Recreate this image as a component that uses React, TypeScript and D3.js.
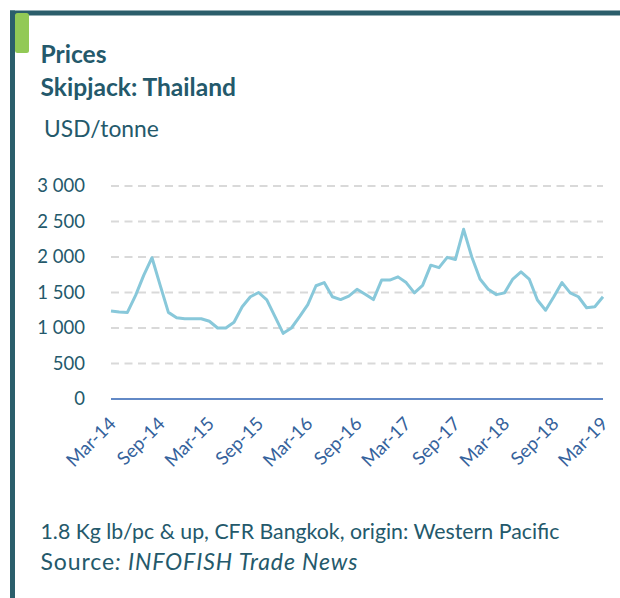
import React from "react";
import * as d3 from "d3";

const months: string[] = (() => {
  const names = ["Jan","Feb","Mar","Apr","May","Jun","Jul","Aug","Sep","Oct","Nov","Dec"];
  const out: string[] = [];
  for (let i = 0; i <= 60; i++) {
    const m = (2 + i) % 12;
    const y = 14 + Math.floor((2 + i) / 12);
    out.push(`${names[m]}-${y}`);
  }
  return out;
})();

const prices: number[] = [
  1240, 1225, 1220, 1460, 1745, 1990, 1600, 1220, 1145, 1130, 1130, 1130,
  1095, 1000, 1000, 1080, 1300, 1440, 1500, 1395, 1160, 925, 1000, 1160,
  1330, 1595, 1640, 1440, 1400, 1450, 1545, 1475, 1400, 1675, 1675, 1720,
  1640, 1495, 1600, 1885, 1850, 1995, 1965, 2390, 2000, 1690, 1545, 1470,
  1495, 1690, 1790, 1690, 1395, 1250, 1440, 1640, 1495, 1440, 1285, 1300,
  1440,
];

const yTicks: number[] = [0, 500, 1000, 1500, 2000, 2500, 3000];
const xTickLabels: string[] = ["Mar-14","Sep-14","Mar-15","Sep-15","Mar-16","Sep-16","Mar-17","Sep-17","Mar-18","Sep-18","Mar-19"];

const W = 620, H = 598;
const FONT = "Lato, 'Noto Sans', sans-serif";
const TEAL = "#24596b";

export default function App() {
  const x = d3.scalePoint<string>().domain(months).range([111, 603]);
  const y = d3.scaleLinear().domain([0, 3000]).range([399, 186]);
  const line = d3.line<number>().x((_, i) => x(months[i]) as number).y((d) => y(d));
  const fmt = (v: number) => d3.format(",")(v).replace(/,/g, " ");

  return (
    <div style={{ position: "fixed", left: 0, top: 0 }}>
      <svg width={W} height={H} style={{ display: "block", fontFamily: FONT }}>
        <rect x={0} y={0} width={W} height={H} fill="#ffffff" />
        {/* frame */}
        <rect x={10} y={10.5} width={W - 10} height={5} fill="#2b5e6b" />
        <rect x={10} y={10.5} width={5} height={H - 10} fill="#2b5e6b" />
        <rect x={15} y={13} width={14} height={40} rx={2.5} fill="#92c956" />
        {/* titles */}
        <text x={40.5} y={63} fontSize={24.6} fontWeight={700} fill={TEAL}>Prices</text>
        <text x={40.5} y={96} fontSize={24.6} fontWeight={700} fill={TEAL}>Skipjack: Thailand</text>
        <text x={44} y={136.5} fontSize={22.8} fill={TEAL}>USD/tonne</text>
        {/* grid */}
        {yTicks.filter((t) => t > 0).map((t) => (
          <line key={t} x1={111} x2={603} y1={y(t)} y2={y(t)} stroke="#d9d9d9" strokeWidth={2} strokeDasharray="8 5.5" />
        ))}
        {yTicks.map((t) => (
          <text key={"yl" + t} x={85} y={y(t)} dy="0.35em" textAnchor="end" fontSize={18.5} fill={TEAL}>{fmt(t)}</text>
        ))}
        <line x1={111} x2={603} y1={y(0)} y2={y(0)} stroke="#6289c6" strokeWidth={2} />
        {xTickLabels.map((lab) => {
          const px = x(lab) as number;
          return (
            <text key={lab} transform={`translate(${px + 6},${425}) rotate(-45)`} textAnchor="end" fontSize={18.5} fill="#35629c">{lab}</text>
          );
        })}
        <path d={line(prices) || ""} fill="none" stroke="#88c8da" strokeWidth={3} strokeLinejoin="round" />
        {/* footer */}
        <text x={40.5} y={539} fontSize={21.3} fill={TEAL}>1.8 Kg lb/pc &amp; up, CFR Bangkok, origin: Western Pacific</text>
        <text x={40.5} y={569.5} fontSize={23} letterSpacing={0.9} fill={TEAL}>Source<tspan fontStyle="italic">: INFOFISH Trade News</tspan></text>
      </svg>
    </div>
  );
}
